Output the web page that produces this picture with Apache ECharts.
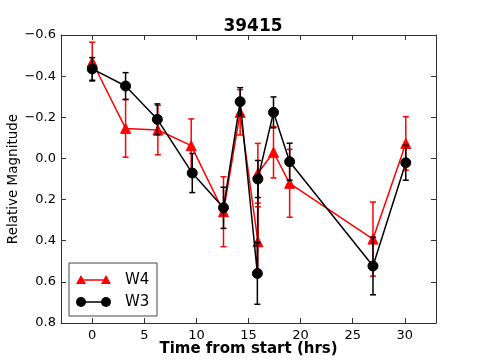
<!DOCTYPE html>
<html>
<head>
<meta charset="utf-8">
<title>39415</title>
<script src="https://cdn.jsdelivr.net/npm/echarts@6/dist/echarts.min.js"></script>
<style>
    html, body { margin: 0; padding: 0; background: #fff; }
    #chart { width: 485px; height: 360px; }
</style>
</head>
<body>
<div id="chart"></div>
<script>
// W4 (red triangles)
var w4Time = [0, 3.2, 6.3, 9.5, 12.6, 14.2, 15.9, 15.9, 17.4, 18.95, 26.95, 30.1];
var w4Mag  = [-0.47, -0.146, -0.138, -0.062, 0.259, -0.224, 0.405, 0.072, -0.03, 0.121, 0.392, -0.073];
var w4Err  = [0.095, 0.14, 0.12, 0.13, 0.17, 0.11, 0.17, 0.145, 0.125, 0.165, 0.18, 0.13];

// W3 (black circles)
var w3Time = [0, 3.2, 6.25, 9.6, 12.6, 14.2, 15.85, 15.9, 17.4, 18.95, 26.95, 30.1];
var w3Mag  = [-0.435, -0.352, -0.19, 0.071, 0.24, -0.276, 0.559, 0.10, -0.224, 0.016, 0.523, 0.021];
var w3Err  = [0.055, 0.065, 0.075, 0.095, 0.1, 0.068, 0.15, 0.09, 0.075, 0.09, 0.14, 0.085];

var xTicks = [0, 5, 10, 15, 20, 25, 30];

var FONT = 'DejaVu Sans';

function pairs(t, v){
    var out = [];
    for (var i = 0; i < t.length; i++) out.push([t[i], v[i]]);
    return out;
}
function triples(t, v, e){
    var out = [];
    for (var i = 0; i < t.length; i++) out.push([t[i], v[i], e[i]]);
    return out;
}

/** error bar with caps */
function errRender(color){
    return function(params, api){
        var x = api.value(0), y = api.value(1), e = api.value(2);
        var a = api.coord([x, y - e]);
        var b = api.coord([x, y + e]);
        var c = 3;
        var st = { stroke: color, lineWidth: 1.5 };
        return {
            type: 'group',
            children: [
                { type: 'line', shape: { x1: a[0], y1: a[1], x2: b[0], y2: b[1] }, style: st },
                { type: 'line', shape: { x1: a[0] - c, y1: a[1], x2: a[0] + c, y2: a[1] }, style: st },
                { type: 'line', shape: { x1: b[0] - c, y1: b[1], x2: b[0] + c, y2: b[1] }, style: st }
            ]
        };
    };
}

function yFmt(v){
    var s = Math.abs(v).toFixed(1);
    return (v < -1e-9 ? '\u2212' : '') + s;
}

var frame = { show: true, onZero: false, lineStyle: { color: '#333', width: 1 } };
var tickIn = { show: true, inside: true, length: 5, lineStyle: { color: '#333' } };

var chart = echarts.init(document.getElementById('chart'));
chart.setOption({
    animation: false,
    title: {
        text: '39415',
        left: 248,
        textAlign: 'center',
        top: 13,
        textStyle: { fontFamily: FONT, fontSize: 17, fontWeight: 'bold', color: '#000' }
    },
    grid: { left: 61, right: 49, top: 35, bottom: 37, outerBoundsMode: 'none', containLabel: false },
    xAxis: [{
        type: 'value', min: -3, max: 33,
        axisLine: frame,
        axisTick: { show: true, inside: true, length: 5, lineStyle: { color: '#333' }, customValues: xTicks },
        axisLabel: { customValues: xTicks, fontFamily: FONT, fontSize: 13, color: '#000', margin: 6 },
        splitLine: { show: false },
        name: 'Time from start (hrs)',
        nameLocation: 'middle',
        nameGap: 19,
        nameMoveOverlap: false,
        nameTextStyle: { fontFamily: FONT, fontSize: 15, fontWeight: 'bold', color: '#000' }
    }, {
        type: 'value', min: -3, max: 33, position: 'top',
        axisLine: frame,
        axisTick: { show: true, inside: true, length: 5, lineStyle: { color: '#333' }, customValues: xTicks },
        axisLabel: { show: false },
        splitLine: { show: false }
    }],
    yAxis: [{
        type: 'value', min: -0.6, max: 0.8, interval: 0.2, inverse: true,
        axisLine: frame,
        axisTick: tickIn,
        axisLabel: { formatter: yFmt, fontFamily: FONT, fontSize: 13, color: '#000', margin: 5 },
        splitLine: { show: false },
        name: 'Relative Magnitude',
        nameLocation: 'middle',
        nameGap: 41,
        nameMoveOverlap: false,
        nameTextStyle: { fontFamily: FONT, fontSize: 13.5, color: '#000' }
    }, {
        type: 'value', min: -0.6, max: 0.8, interval: 0.2, inverse: true, position: 'right',
        axisLine: frame,
        axisTick: tickIn,
        axisLabel: { show: false },
        splitLine: { show: false }
    }],
    series: [{
        name: 'W4 err', type: 'custom', z: 2,
        renderItem: errRender('#ff0000'),
        data: triples(w4Time, w4Mag, w4Err)
    }, {
        name: 'W4', type: 'line', z: 3,
        data: pairs(w4Time, w4Mag),
        symbol: 'triangle', symbolSize: 10,
        lineStyle: { color: '#ff0000', width: 1.5 },
        itemStyle: { color: '#ff0000', borderColor: '#ff0000' }
    }, {
        name: 'W3 err', type: 'custom', z: 4,
        renderItem: errRender('#000'),
        data: triples(w3Time, w3Mag, w3Err)
    }, {
        name: 'W3', type: 'line', z: 5,
        data: pairs(w3Time, w3Mag),
        symbol: 'circle', symbolSize: 10,
        lineStyle: { color: '#000', width: 1.5 },
        itemStyle: { color: '#000', borderColor: '#000' }
    }],
    graphic: [
        { type: 'rect', shape: { x: 69, y: 263, width: 88, height: 53 },
          style: { fill: '#fff', stroke: '#444', lineWidth: 1 }, z: 10 },
        { type: 'line', shape: { x1: 81, y1: 280, x2: 106, y2: 280 },
          style: { stroke: '#ff0000', lineWidth: 1.5 }, z: 11 },
        { type: 'polygon', shape: { points: [[81, 275], [76, 284], [86, 284]] }, style: { fill: '#ff0000' }, z: 11 },
        { type: 'polygon', shape: { points: [[106, 275], [101, 284], [111, 284]] }, style: { fill: '#ff0000' }, z: 11 },
        { type: 'text', x: 125, y: 280, style: { text: 'W4', fontFamily: FONT, fontSize: 15, fill: '#000', verticalAlign: 'middle' }, z: 11 },
        { type: 'line', shape: { x1: 81, y1: 302, x2: 106, y2: 302 },
          style: { stroke: '#000', lineWidth: 1.5 }, z: 11 },
        { type: 'circle', shape: { cx: 81, cy: 302, r: 5 }, style: { fill: '#000' }, z: 11 },
        { type: 'circle', shape: { cx: 106, cy: 302, r: 5 }, style: { fill: '#000' }, z: 11 },
        { type: 'text', x: 125, y: 302, style: { text: 'W3', fontFamily: FONT, fontSize: 15, fill: '#000', verticalAlign: 'middle' }, z: 11 }
    ]
});
</script>
</body>
</html>
